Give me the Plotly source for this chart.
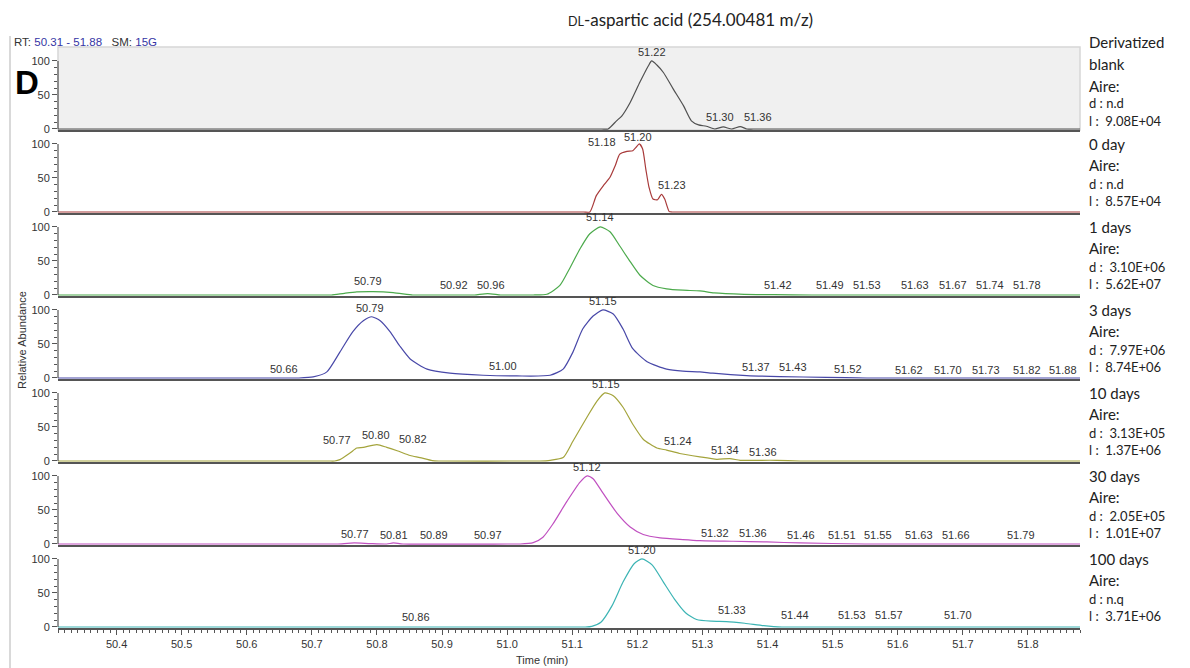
import plotly.graph_objects as go
from plotly.subplots import make_subplots

# ---------------- data ----------------
sample_names = ["Derivatized<br>blank", "0 day", "1 days", "3 days", "10 days", "30 days", "100 days"]
d_area = ["n.d", "n.d", "3.10E+06", "7.97E+06", "3.13E+05", "2.05E+05", "n.q"]
l_area = ["9.08E+04", "8.57E+04", "5.62E+07", "8.74E+06", "1.37E+06", "1.01E+07", "3.71E+06"]

blank_rt = [50.31, 50.6, 51.0, 51.145, 51.155, 51.168, 51.176, 51.189, 51.204, 51.217, 51.222, 51.230,
            51.240, 51.255, 51.271, 51.283, 51.294, 51.306, 51.319, 51.332, 51.345, 51.358, 51.368,
            51.378, 51.5, 51.7, 51.88]
blank_ab = [0, 0, 0, 0, 0, 12, 19, 39, 69, 93, 100, 94, 83, 59, 34, 12, 6, 4, 0, 3, 0, 3.5, 0, 0, 0, 0, 0]

day0_rt = [50.31, 50.6, 51.0, 51.117, 51.127, 51.137, 51.148, 51.158, 51.166, 51.173, 51.184, 51.193,
           51.198, 51.203, 51.208, 51.213, 51.218, 51.224, 51.231, 51.237, 51.242, 51.249, 51.253, 51.263,
           51.5, 51.7, 51.88]
day0_ab = [0, 0, 0, 0, 0, 24, 39, 51, 68, 85, 89, 90, 95, 100, 93, 63, 36, 19, 18, 26, 19, 0.5, 0, 0, 0, 0, 0]

day1_rt = [50.31, 50.5, 50.72, 50.73, 50.75, 50.769, 50.794, 50.825, 50.855, 50.865, 50.94, 50.95, 50.97,
           50.99, 51.0, 51.03, 51.04, 51.061, 51.081, 51.096, 51.112, 51.127, 51.143, 51.158, 51.173,
           51.189, 51.204, 51.224, 51.245, 51.270, 51.296, 51.318, 51.364, 51.41, 51.468, 51.48, 51.7,
           51.88]
day1_ab = [0, 0, 0, 0, 2.5, 4.5, 5, 3.5, 0, 0, 0, 0, 2, 0, 0, 0, 0, 1, 14, 39, 68, 90, 100, 93, 72, 49, 29,
           14, 9, 7, 6, 3, 1, 0.5, 0, 0, 0, 0]

day3_rt = [50.31, 50.5, 50.67, 50.68, 50.702, 50.723, 50.743, 50.763, 50.779, 50.792, 50.805, 50.820,
           50.835, 50.851, 50.877, 50.912, 50.963, 51.015, 51.066, 51.086, 51.101, 51.116, 51.132, 51.147,
           51.163, 51.178, 51.193, 51.215, 51.245, 51.270, 51.296, 51.316, 51.368, 51.419, 51.49, 51.553,
           51.57, 51.7, 51.88]
day3_ab = [0, 0, 0, 0, 1.5, 9, 38, 68, 84, 90, 84, 68, 47, 28, 13, 7, 4, 3, 4, 13, 38, 72, 91, 100, 94, 72,
           43, 24, 13, 10, 9, 7, 3.5, 2, 1, 0, 0, 0, 0]

day10_rt = [50.31, 50.5, 50.725, 50.735, 50.743, 50.759, 50.769, 50.779, 50.800, 50.815, 50.831, 50.851,
            50.866, 50.885, 50.895, 51.04, 51.05, 51.066, 51.086, 51.101, 51.123, 51.138, 51.150, 51.163,
            51.178, 51.193, 51.209, 51.230, 51.245, 51.265, 51.296, 51.322, 51.342, 51.358, 51.38, 51.414,
            51.45, 51.46, 51.7, 51.88]
day10_ab = [0, 0, 0, 0, 2, 12, 19, 20, 24, 20, 15, 8, 5, 0.5, 0, 0, 0, 1, 5, 29, 65, 88, 100, 96, 79, 54, 32,
            19, 16, 11, 6, 2.5, 3.5, 1, 1, 1, 0, 0, 0, 0]

day30_rt = [50.31, 50.5, 50.73, 50.74, 50.765, 50.79, 50.815, 50.825, 50.84, 51.0, 51.01, 51.02, 51.040,
            51.055, 51.070, 51.092, 51.112, 51.123, 51.132, 51.147, 51.169, 51.189, 51.209, 51.235, 51.270,
            51.296, 51.347, 51.399, 51.450, 51.55, 51.56, 51.7, 51.88]
day30_ab = [0, 0, 0, 0, 1.5, 0.5, 0, 1.5, 0, 0, 0, 0, 2, 10, 29, 63, 91, 100, 96, 75, 45, 25, 14, 9, 6.5,
            5, 4, 3, 1.5, 0, 0, 0, 0]

day100_rt = [50.31, 50.6, 51.0, 51.10, 51.12, 51.13, 51.144, 51.161, 51.178, 51.195, 51.207, 51.223, 51.240,
             51.257, 51.274, 51.291, 51.314, 51.337, 51.365, 51.394, 51.422, 51.432, 51.6, 51.88]
day100_ab = [0, 0, 0, 0, 0, 1, 7, 31, 66, 93, 100, 91, 66, 41, 21, 11, 8.5, 8, 5.5, 2, 0, 0, 0, 0]

# peak labels: text, x (min), y (relative abundance)
lab1 = (["51.22", "51.30", "51.36"], [51.222, 51.327, 51.385], [103, 7, 7])
lab2 = (["51.18", "51.20", "51.23"], [51.146, 51.201, 51.253], [93, 100, 29])
lab3 = (["50.79", "50.92", "50.96", "51.14", "51.42", "51.49", "51.53", "51.63", "51.67", "51.74", "51.78"],
        [50.786, 50.918, 50.975, 51.143, 51.416, 51.496, 51.553, 51.626, 51.685, 51.742, 51.798],
        [10, 4.5, 4.5, 104, 4.5, 4.5, 4.5, 4.5, 4.5, 4.5, 4.5])
lab4 = (["50.66", "50.79", "51.00", "51.15", "51.37", "51.43", "51.52", "51.62", "51.70", "51.73", "51.82", "51.88"],
        [50.657, 50.789, 50.994, 51.147, 51.382, 51.439, 51.524, 51.617, 51.677, 51.736, 51.798, 51.854],
        [3, 93, 7, 103, 6, 6, 3, 2, 2, 2, 2, 2])
lab5 = (["50.77", "50.80", "50.82", "51.15", "51.24", "51.34", "51.36"],
        [50.739, 50.798, 50.855, 51.152, 51.262, 51.335, 51.393],
        [21, 28, 22, 103, 19, 6, 3])
lab6 = (["50.77", "50.81", "50.89", "50.97", "51.12", "51.32", "51.36", "51.46", "51.51", "51.55", "51.63", "51.66", "51.79"],
        [50.766, 50.826, 50.888, 50.971, 51.123, 51.319, 51.378, 51.452, 51.514, 51.570, 51.632, 51.690, 51.790],
        [4.5, 3, 3, 3, 103, 6, 6, 3, 3, 3, 3, 3, 3])
lab7 = (["50.86", "51.20", "51.33", "51.44", "51.53", "51.57", "51.70"],
        [50.860, 51.207, 51.345, 51.442, 51.530, 51.587, 51.692],
        [4.5, 103, 15, 7.5, 7.5, 7.5, 7.5])

x_range = [50.31, 51.88]
y_ticks = [0, 50, 100]
y_minor = [10, 20, 30, 40, 60, 70, 80, 90]

# ---------------- style / layout ----------------
colors = ["#505050", "#a83a3a", "#4caa4c", "#4848a8", "#a4a43c", "#c050c0", "#3cb4b4"]
series = [(blank_rt, blank_ab), (day0_rt, day0_ab), (day1_rt, day1_ab), (day3_rt, day3_ab),
          (day10_rt, day10_ab), (day30_rt, day30_ab), (day100_rt, day100_ab)]
labels = [lab1, lab2, lab3, lab4, lab5, lab6, lab7]

W, H = 1190, 668
L, R, T, B = 58, 1080, 47, 628
N = 7
PANEL = (B - T) / N


def px_x(px):
    return (px - L) / (R - L)


def px_y(py):
    return (B - py) / (B - T)


fig = make_subplots(rows=N, cols=1, shared_xaxes=True, vertical_spacing=0)

axfont = dict(family="Arial", size=11, color="#333333")
annotations = []
shapes = []

for i, ((xs, ys), col) in enumerate(zip(series, colors)):
    r = i + 1
    fig.add_trace(go.Scatter(x=xs, y=ys, mode="lines",
                             line=dict(color=col, width=1.2, shape="spline", smoothing=0.6),
                             hoverinfo="skip", showlegend=False), row=r, col=1)
    fig.update_yaxes(range=[-1.5, 120.5], tickmode="array", tickvals=y_ticks, ticks="outside",
                     ticklen=5, tickcolor="#555555", tickwidth=1,
                     minor=dict(tickmode="array", tickvals=y_minor, ticks="outside", ticklen=3,
                                tickcolor="#555555", showgrid=False),
                     showline=False, showgrid=False, zeroline=False, tickfont=axfont,
                     fixedrange=True, row=r, col=1)
    last = (r == N)
    fig.update_xaxes(range=x_range, showline=True, linecolor="#555555", linewidth=2,
                     showgrid=False, zeroline=False, layer="below traces",
                     ticks="outside" if last else "", showticklabels=last,
                     tick0=50.4, dtick=0.1, tickformat=".1f", ticklen=5, tickcolor="#555555",
                     minor=dict(dtick=0.01, tick0=50.31, ticks="outside" if last else "", ticklen=2.5,
                                tickcolor="#555555", showgrid=False),
                     tickfont=axfont, row=r, col=1)
    xr = "x" if r == 1 else f"x{r}"
    yr = "y" if r == 1 else f"y{r}"
    # y axis line from 0 to 100
    shapes.append(dict(type="line", xref=f"{xr} domain", yref=yr, x0=0, x1=0, y0=y_ticks[0], y1=y_ticks[-1],
                       line=dict(color="#555555", width=1.2)))
    # peak labels
    txts, lx, ly = labels[i]
    for t, xv, yv in zip(txts, lx, ly):
        annotations.append(dict(x=xv, y=yv, xref=xr, yref=yr, text=t, showarrow=False,
                                yanchor="bottom", xanchor="center",
                                font=dict(family="Arial", size=11, color="#333333"), borderpad=0))
    # right side sample info
    top = T + PANEL * i
    if i == 0:
        lines = [("Derivatized", 42, 15), ("blank", 64, 15), ("Aire:", 86, 15),
                 ("d : " + d_area[i], 103, 13), ("l :  " + l_area[i], 121, 13)]
    else:
        lines = [(sample_names[i], top + 14, 15), ("Aire:", top + 35, 15),
                 ("d : " + d_area[i] if d_area[i].startswith("n") else "d :  " + d_area[i], top + 54, 13),
                 ("l :  " + l_area[i], top + 71, 13)]
    for t, ypx, fs in lines:
        annotations.append(dict(x=px_x(1087), y=px_y(ypx), xref="paper", yref="paper", text=t,
                                showarrow=False, xanchor="left", yanchor="middle",
                                font=dict(family="Lato", size=fs, color="#222222")))

# gray background for blank panel
shapes.insert(0, dict(type="rect", xref="x domain", yref="y domain", x0=0, x1=1, y0=0, y1=1,
                      fillcolor="#f0f0f0", line=dict(color="#d6d6d6", width=1.5), layer="below"))
# left frame line
shapes.append(dict(type="line", xref="paper", yref="paper", x0=px_x(10), x1=px_x(10),
                   y0=px_y(36), y1=px_y(668), line=dict(color="#cccccc", width=1.5)))

annotations += [
    dict(x=px_x(690), y=px_y(20), xref="paper", yref="paper", showarrow=False,
         text="<span style='font-size:12.5px'>DL</span>-aspartic acid (254.00481 m/z)",
         font=dict(family="Lato", size=17, color="#222222"), xanchor="center", yanchor="middle"),
    dict(x=px_x(12), y=px_y(42), xref="paper", yref="paper", showarrow=False, xanchor="left",
         yanchor="middle",
         text="RT: <span style='color:#3535a5'>50.31 - 51.88</span>&nbsp;&nbsp;&nbsp;SM: <span style='color:#3535a5'>15G</span>",
         font=dict(family="Arial", size=11.5, color="#333333")),
    dict(x=px_x(27), y=px_y(83), xref="paper", yref="paper", showarrow=False, xanchor="center",
         yanchor="middle", text="<b>D</b>", font=dict(family="Arial", size=33, color="#000000")),
    dict(x=px_x(22), y=px_y(340), xref="paper", yref="paper", showarrow=False, textangle=-90,
         xanchor="center", yanchor="middle",
         text="Relative Abundance", font=dict(family="Arial", size=11, color="#333333")),
    dict(x=px_x(542), y=px_y(660), xref="paper", yref="paper", showarrow=False,
         xanchor="center", yanchor="middle",
         text="Time (min)", font=dict(family="Arial", size=11, color="#333333")),
]

fig.update_layout(width=W, height=H, margin=dict(l=L, r=W - R, t=T, b=H - B),
                  paper_bgcolor="white", plot_bgcolor="rgba(0,0,0,0)",
                  annotations=annotations, shapes=shapes, showlegend=False)

fig.write_html("out.html", config={"displayModeBar": False})
